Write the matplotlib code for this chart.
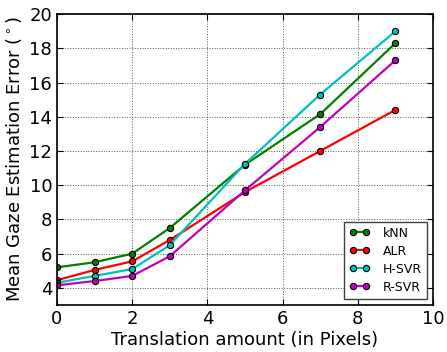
import matplotlib
matplotlib.use('Agg')
import matplotlib.pyplot as plt

# Translation amounts (pixels) and mean gaze errors (degrees)
shifts = [0, 1, 2, 3, 5, 7, 9]
knn = [5.2, 5.5, 6.0, 7.5, 11.2, 14.15, 18.3]
alr = [4.45, 5.05, 5.55, 6.8, 9.6, 12.0, 14.4]
hsvr = [4.3, 4.7, 5.1, 6.5, 11.25, 15.3, 19.0]
rsvr = [4.15, 4.4, 4.7, 5.85, 9.7, 13.4, 17.3]

series = [('kNN', knn, 'g'), ('ALR', alr, 'r'),
          ('H-SVR', hsvr, 'c'), ('R-SVR', rsvr, 'm')]

fig = plt.figure(figsize=(4.47, 3.52), dpi=100)
ax = fig.add_axes([0.1275, 0.1335, 0.8412, 0.8265])

for name, vals, col in series:
    ax.plot(shifts, vals, '-o', color=col, lw=1.6, ms=4.5,
            mec='k', mew=0.8, label=name)

ax.set_xlim(0, 10)
ax.set_ylim(3, 20)
ax.set_xticks(range(0, 11, 2))
ax.set_yticks(range(4, 21, 2))
ax.grid(True, linestyle=':', color='0.35', lw=0.7)
ax.tick_params(labelsize=13, direction='in', length=4,
               top=True, right=True)
for s in ax.spines.values():
    s.set_linewidth(1.2)
ax.set_xlabel('Translation amount (in Pixels)', fontsize=13, labelpad=2)
ax.set_ylabel(r'Mean Gaze Estimation Error ($^\circ$)', fontsize=13, labelpad=4)

leg = ax.legend(loc='lower right', numpoints=2, fontsize=9, fancybox=False,
                framealpha=1, edgecolor='0.25', borderaxespad=0.5,
                handlelength=1.7, handletextpad=1.0, labelspacing=0.4)
leg.get_frame().set_linewidth(1.0)

fig.savefig('out.png', dpi=100)
